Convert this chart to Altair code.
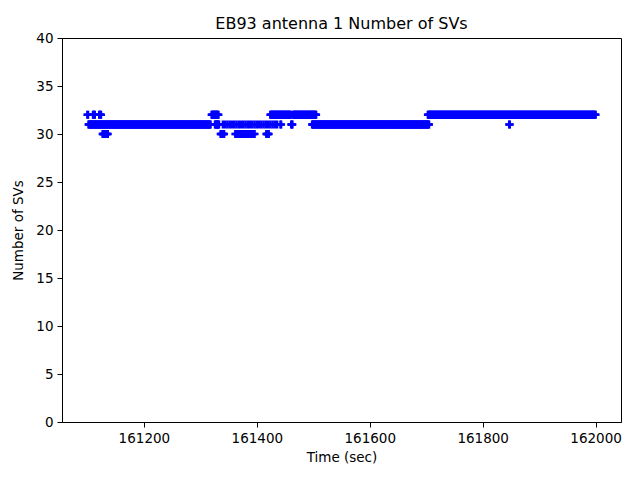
import altair as alt
import pandas as pd

run_start = [161100, 161110, 161121, 161320, 161424, 161464, 161703,
             161102, 161326, 161340, 161442, 161461, 161498, 161847,
             161127, 161336, 161362, 161417]
run_end   = [161101, 161113, 161124, 161332, 161460, 161505, 162000,
             161318, 161333, 161436, 161443, 161463, 161705, 161848,
             161136, 161342, 161397, 161421]
run_step  = [1, 1, 1, 1, 1, 1, 1,
             1, 1, 4, 1, 1, 1, 1,
             1, 1, 2, 1]
run_value = [32, 32, 32, 32, 32, 32, 32,
             31, 31, 31, 31, 31, 31, 31,
             30, 30, 30, 30]

rows = []
for s, e, st, v in zip(run_start, run_end, run_step, run_value):
    for t in range(s, e + 1, st):
        rows.append({"time": t, "svs": v})
df = pd.DataFrame(rows)

x_ticks = [161200, 161400, 161600, 161800, 162000]
y_ticks = [0, 5, 10, 15, 20, 25, 30, 35, 40]

font = "DejaVu Sans"

chart = alt.Chart(df).mark_point(
    shape="M-1,0L1,0M0,-1L0,1",
    filled=False,
    stroke="#0000ff",
    strokeWidth=2.5,
    size=64,
    opacity=1,
).encode(
    x=alt.X("time:Q", title="Time (sec)",
            scale=alt.Scale(domain=[161055, 162045], nice=False, zero=False),
            axis=alt.Axis(values=x_ticks, format="d", grid=False, tickSize=5,
                          labelPadding=4, titlePadding=6)),
    y=alt.Y("svs:Q", title="Number of SVs",
            scale=alt.Scale(domain=[0, 40], nice=False),
            axis=alt.Axis(values=y_ticks, format="d", grid=False, tickSize=5,
                          labelPadding=4, titlePadding=10)),
).properties(
    width=559,
    height=384,
    title=alt.TitleParams("EB93 antenna 1 Number of SVs", font=font, fontSize=16,
                          fontWeight="normal", color="black", offset=-1),
    autosize=alt.AutoSizeParams(type="none"),
    padding={"left": 54, "top": 30, "right": 11, "bottom": 50},
).configure_view(
    stroke="black", strokeWidth=1
).configure_axis(
    labelFont=font, titleFont=font, labelFontSize=13.5, titleFontSize=13.5,
    titleFontWeight="normal", labelColor="black", titleColor="black",
    domainColor="black", tickColor="black", domainWidth=1, tickWidth=1,
)

chart.save("out.html", embed_options={"renderer": "svg", "actions": False})
